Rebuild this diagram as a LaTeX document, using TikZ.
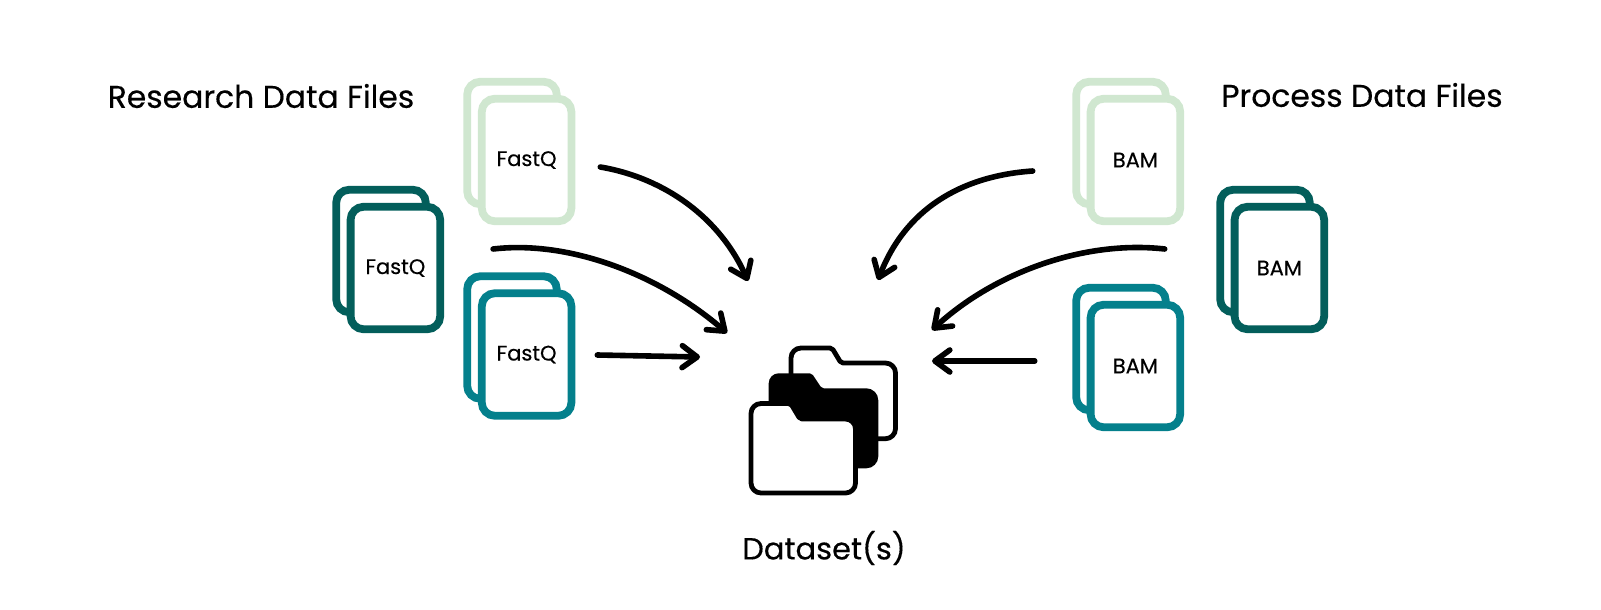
\documentclass[tikz,border=0pt]{standalone}
\usepackage{fontspec}
\setmainfont[RawFeature={embolden=0.35}]{Poppins}
\usetikzlibrary{arrows.meta,calc}
\definecolor{paleDoc}{HTML}{D0E7D0}
\definecolor{deepDoc}{HTML}{035E5B}
\definecolor{tealDoc}{HTML}{04808C}
\tikzset{lbl/.style={inner sep=0pt, font=\fontsize{31.4}{36}\selectfont},
  doc/.style={rectangle, draw, fill=white, line width=7.8pt, rounded corners=13pt,
    minimum width=89.6pt, minimum height=122.5pt, inner sep=0pt,
    font=\fontsize{21}{25}\selectfont},
  flow/.style={-{Straight Barb[length=15pt, width=22pt, round]}, line width=5.6pt,
    line cap=round},
  folder/.style={draw=black, fill=white, line width=4.8pt, line join=round}}

\begin{document}
\begin{tikzpicture}[x=1pt, y=-1pt]
  \useasboundingbox (0,0) rectangle (1601,610);
  % Titles
  \node[lbl] (research) at (261, 96)  {Research Data Files};
  \node[lbl] (process)  at (1362, 95) {Process Data Files};
  \node[lbl, font=\fontsize{30.5}{36}\selectfont] (dataset) at (824, 548) {Dataset(s)};
  % FastQ stacks
  \node[doc, draw=paleDoc] (fqAback) at (512, 143)     {};
  \node[doc, draw=paleDoc] (fqA)     at (526.6, 160)   {FastQ};
  \node[doc, draw=deepDoc] (fqBback) at (381, 251)     {};
  \node[doc, draw=deepDoc] (fqB)     at (395.4, 268)   {FastQ};
  \node[doc, draw=tealDoc] (fqCback) at (512, 337.5)   {};
  \node[doc, draw=tealDoc] (fqC)     at (526.6, 354.5) {FastQ};
  % BAM stacks
  \node[doc, draw=paleDoc] (bamAback) at (1121, 143)    {};
  \node[doc, draw=paleDoc] (bamA)     at (1135.4, 160)  {BAM};
  \node[doc, draw=deepDoc] (bamBback) at (1265, 251)    {};
  \node[doc, draw=deepDoc] (bamB)     at (1279.4, 268)  {BAM};
  \node[doc, draw=tealDoc] (bamCback) at (1121, 349)    {};
  \node[doc, draw=tealDoc] (bamC)     at (1135.4, 366)  {BAM};
  % Folders
  \draw[folder] (791,439) [rounded corners=10pt] -- (791,348) [rounded corners=2pt] -- (832,348)
    -- (841,363) [rounded corners=10pt] -- (895.5,363) -- (895.5,438.7) -- cycle;
  \fill[rounded corners=10pt] (768.7,468.3) -- (768.7,373.3) [rounded corners=2pt] -- (811.7,373.3)
    -- (821.7,388.3) [rounded corners=12pt] -- (878.3,388.3) -- (878.3,468.3) -- cycle;
  \draw[folder] (751,493) [rounded corners=10pt] -- (751,403.5) [rounded corners=2pt] -- (790.7,403.5)
    -- (800,419) [rounded corners=10pt] -- (855.5,419) -- (855.5,493) -- cycle;
  % Free arrow ends
  \coordinate (inA) at (748, 281);
  \coordinate (inB) at (727, 333);
  \coordinate (inC) at (700, 357);
  \coordinate (inD) at (878, 280);
  \coordinate (inE) at (932, 330);
  \coordinate (inF) at (932, 361);
  % Arrows from the left
  \draw[flow] ($(fqA.east)+(25,7)$) .. controls (665,178) and (720,218) .. (inA);
  \draw[flow] ($(fqB.east)+(49,-19)$) .. controls (570,240) and (660,275) .. (inB);
  \draw[flow] ($(fqC.east)+(22,0.5)$) -- (inC);
  % Arrows from the right
  \draw[flow] ($(bamA.west)+(-54,11)$) .. controls (960,176) and (905,210) .. (inD);
  \draw[flow] ($(bamB.west)+(-66,-19)$) .. controls (1085,240) and (995,272) .. (inE);
  \draw[flow] ($(bamC.west)+(-52,-5)$) -- (inF);
\end{tikzpicture}
\end{document}
